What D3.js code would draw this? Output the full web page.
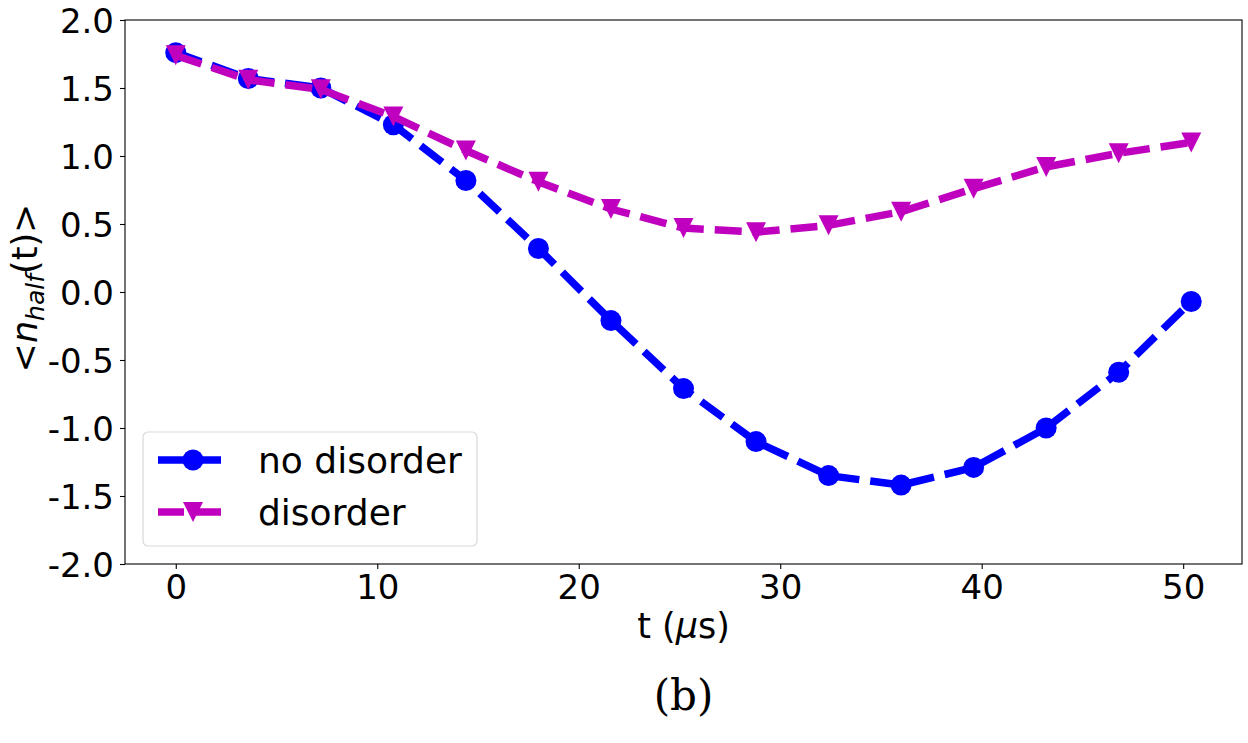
<!DOCTYPE html>
<html>
<head>
<meta charset="utf-8">
<script src="https://cdn.jsdelivr.net/npm/d3@7"></script>
<style>
  body { margin: 0; background: #fff; }
  text { font-family: "DejaVu Sans", sans-serif; fill: #000; }
</style>
</head>
<body>
<div id="chart"></div>
<script>
// time points (microseconds)
var tValues = [0, 3.6, 7.2, 10.8, 14.4, 18, 21.6, 25.2, 28.8, 32.4, 36, 39.6, 43.2, 46.8, 50.4];
var noDisorder = [1.76, 1.57, 1.50, 1.23, 0.82, 0.32, -0.21, -0.71, -1.10, -1.35, -1.42, -1.29, -1.00, -0.59, -0.07];
var withDisorder = [1.74, 1.56, 1.49, 1.29, 1.04, 0.81, 0.61, 0.47, 0.44, 0.49, 0.59, 0.76, 0.92, 1.02, 1.10];
var seriesNames = ["no disorder", "disorder"];
var xTicks = [0, 10, 20, 30, 40, 50];
var xTickLabels = ["0", "10", "20", "30", "40", "50"];
var yTicks = [2.0, 1.5, 1.0, 0.5, 0.0, -0.5, -1.0, -1.5, -2.0];
var yTickLabels = ["2.0", "1.5", "1.0", "0.5", "0.0", "-0.5", "-1.0", "-1.5", "-2.0"];

var W = 1248, H = 743;
var mLeft = 125, mRight = 1242, mTop = 20, mBottom = 564;

var svg = d3.select("#chart").append("svg")
  .attr("width", W)
  .attr("height", H);

svg.append("rect").attr("width", W).attr("height", H).attr("fill", "#fff");

var x = d3.scaleLinear().domain([-2.52, 52.92]).range([mLeft, mRight]);
var y = d3.scaleLinear().domain([-2, 2]).range([mBottom, mTop]);

// axes
var xAxis = d3.axisBottom(x)
  .tickValues(xTicks)
  .tickFormat(function(d, i){ return xTickLabels[i]; })
  .tickSize(5)
  .tickPadding(6);
var yAxis = d3.axisLeft(y)
  .tickValues(yTicks)
  .tickFormat(function(d, i){ return yTickLabels[i]; })
  .tickSize(5)
  .tickPadding(6);

var gx = svg.append("g").attr("transform", "translate(0," + mBottom + ")").call(xAxis);
var gy = svg.append("g").attr("transform", "translate(" + mLeft + ",0)").call(yAxis);
[gx, gy].forEach(function(g){
  g.select(".domain").remove();
  g.selectAll(".tick line").attr("stroke", "#000").attr("stroke-width", 1.1);
  g.selectAll(".tick text")
    .attr("font-family", "DejaVu Sans")
    .attr("font-size", "34px")
    .attr("fill", "#000");
});
gx.selectAll(".tick text").attr("dy", "0.71em");
gy.selectAll(".tick text").attr("dy", "0.36em");

// frame
svg.append("rect")
  .attr("x", mLeft).attr("y", mTop)
  .attr("width", mRight - mLeft).attr("height", mBottom - mTop)
  .attr("fill", "none")
  .attr("stroke", "#000")
  .attr("stroke-width", 1.1);

var line = d3.line()
  .x(function(d){ return x(d[0]); })
  .y(function(d){ return y(d[1]); });

function triDown(cx, cy, s){
  return "M" + (cx - s) + "," + (cy - s) + "L" + (cx + s) + "," + (cy - s) + "L" + cx + "," + (cy + s) + "Z";
}

var series = [
  { name: seriesNames[0], values: noDisorder, color: "#0000ff", marker: "circle" },
  { name: seriesNames[1], values: withDisorder, color: "#bf00bf", marker: "tri" }
];

var ms = 10.5;

series.forEach(function(s){
  var pts = tValues.map(function(t, i){ return [t, s.values[i]]; });
  svg.append("path")
    .attr("d", line(pts))
    .attr("fill", "none")
    .attr("stroke", s.color)
    .attr("stroke-width", 7.5)
    .attr("stroke-dasharray", "27,11");
  if (s.marker == "circle"){
    svg.selectAll(null).data(pts).enter().append("circle")
      .attr("cx", function(d){ return x(d[0]); })
      .attr("cy", function(d){ return y(d[1]); })
      .attr("r", ms)
      .attr("fill", s.color);
  }
  else{
    svg.selectAll(null).data(pts).enter().append("path")
      .attr("d", function(d){ return triDown(x(d[0]), y(d[1]), ms - 0.5); })
      .attr("fill", s.color);
  }
});

// legend
var lg = svg.append("g");
lg.append("rect")
  .attr("x", 143).attr("y", 432)
  .attr("width", 334).attr("height", 114)
  .attr("rx", 5)
  .attr("fill", "#fff")
  .attr("fill-opacity", 0.8)
  .attr("stroke", "#d9d9d9")
  .attr("stroke-width", 1.2);

series.forEach(function(s, i){
  var ly = 460 + i * 52;
  lg.append("line")
    .attr("x1", 158).attr("x2", 221)
    .attr("y1", ly).attr("y2", ly)
    .attr("stroke", s.color)
    .attr("stroke-width", 7.5)
    .attr("stroke-dasharray", "26,11");
  if (s.marker == "circle"){
    lg.append("circle").attr("cx", 193).attr("cy", ly).attr("r", ms).attr("fill", s.color);
  }
  else{
    lg.append("path").attr("d", triDown(193, ly, ms - 0.5)).attr("fill", s.color);
  }
  lg.append("text")
    .attr("x", 258).attr("y", ly)
    .attr("dy", "0.36em")
    .attr("font-size", "36px")
    .text(s.name);
});

// x label
var xl = svg.append("text")
  .attr("x", (mLeft + mRight) / 2)
  .attr("y", 638)
  .attr("text-anchor", "middle")
  .attr("font-size", "35px");
xl.append("tspan").text("t (");
xl.append("tspan").attr("font-style", "italic").text("\u03bc");
xl.append("tspan").text("s)");

// y label
var yl = svg.append("text")
  .attr("transform", "translate(37," + ((mTop + mBottom) / 2 - 4) + ") rotate(-90)")
  .attr("text-anchor", "middle")
  .attr("font-size", "35px");
yl.append("tspan").text("<");
yl.append("tspan").attr("font-style", "italic").text("n");
yl.append("tspan").attr("font-style", "italic").attr("font-size", "25px").attr("dy", "7").text("half");
yl.append("tspan").attr("dy", "-7").text("(t)>");

// panel tag
svg.append("text")
  .attr("x", (mLeft + mRight) / 2)
  .attr("y", 710)
  .attr("text-anchor", "middle")
  .style("font-family", "DejaVu Serif")
  .attr("font-size", "42px")
  .text("(b)");
</script>
</body>
</html>
